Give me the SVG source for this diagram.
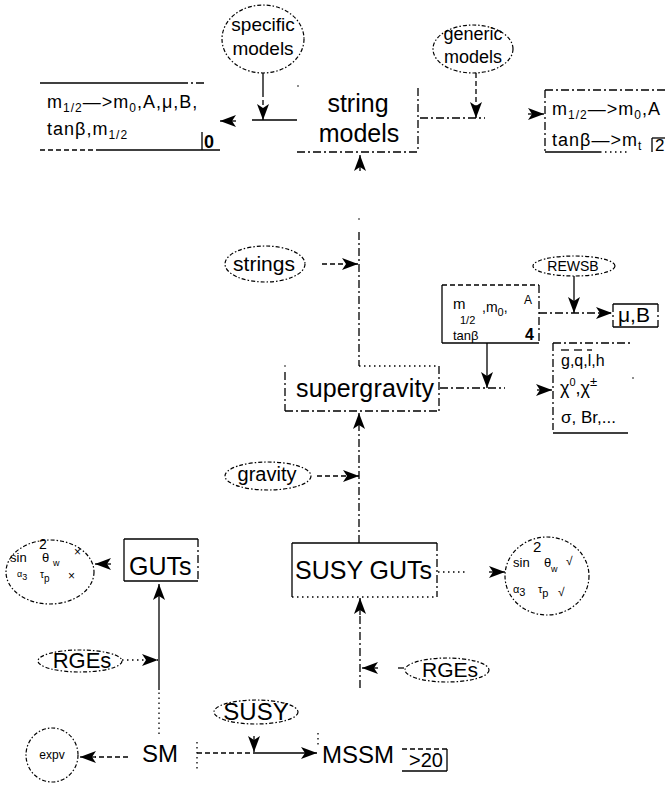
<svg xmlns="http://www.w3.org/2000/svg" width="665" height="786" viewBox="0 0 665 786">
<style>
text{font-family:"Liberation Sans",Arial,Helvetica,sans-serif;fill:#000}
.big{font-size:25px}
.sm{font-size:18px}
.c{text-anchor:middle}
.b{font-weight:bold}
.ln{stroke:#000;stroke-width:1.3;fill:none}
.dd{stroke-dasharray:8 3 2 3}
.da{stroke-dasharray:5 3}
.dt{stroke-dasharray:1.5 3.5}
.el{stroke:#000;stroke-width:1.2;fill:none;stroke-dasharray:4 2 1.5 2}
.ar{marker-end:url(#ah)}
</style>
<defs>
<marker id="ah" viewBox="0 0 16 12" refX="16" refY="6" markerWidth="16" markerHeight="12" markerUnits="userSpaceOnUse" orient="auto"><path d="M0,0 L16,6 L0,12 L4,6 z" fill="#000"/></marker>
</defs>

<g id="connectors">
<line class="ln" x1="263" y1="73" x2="263" y2="92"/>
<line class="ln ar da" x1="263" y1="92" x2="263" y2="120"/>
<line class="ln" x1="252" y1="120" x2="297" y2="120"/>
<line class="ln ar" x1="236" y1="121" x2="220" y2="121"/>
<line class="ln ar da" x1="476" y1="73" x2="476" y2="118"/>
<line class="ln dd" x1="420" y1="118" x2="485" y2="118"/>
<line class="ln ar" x1="528" y1="114" x2="544" y2="114"/>
<line class="ln ar" x1="360" y1="171" x2="360" y2="155"/>
<line class="ln dd" x1="359" y1="232" x2="359" y2="366"/>
<circle cx="359" cy="219" r="0.8"/>
<line class="ln ar da" x1="322" y1="264" x2="358" y2="264"/>
<line class="ln ar da" x1="317" y1="476" x2="359" y2="476"/>
<line class="ln dd" x1="359" y1="543" x2="359" y2="430"/>
<line class="ln ar" x1="359" y1="430" x2="359" y2="413"/>
<line class="ln dd" x1="440" y1="388" x2="505" y2="388"/>
<line class="ln ar" x1="487" y1="343" x2="487" y2="388"/>
<line class="ln ar" x1="537" y1="390" x2="552" y2="390"/>
<line class="ln ar" x1="574" y1="276" x2="574" y2="313"/>
<line class="ln dd ar" x1="539" y1="313" x2="612" y2="313"/>
<line class="ln dt" x1="438" y1="572" x2="466" y2="572"/>
<line class="ln ar" x1="489" y1="572" x2="505" y2="572"/>
<line class="ln dd" x1="360" y1="688" x2="360" y2="615"/>
<line class="ln ar" x1="360" y1="615" x2="360" y2="598"/>
<line class="ln ar" x1="378" y1="668" x2="362" y2="668"/>
<line class="ln" x1="398" y1="668" x2="404" y2="668"/>
<line class="ln dt" x1="159" y1="734" x2="159" y2="690"/>
<line class="ln ar" x1="159" y1="690" x2="159" y2="584"/>
<line class="ln dt ar" x1="122" y1="660" x2="158" y2="660"/>
<line class="ln ar" x1="111" y1="564" x2="95" y2="564"/>
<line class="ln da" x1="128" y1="757" x2="95" y2="757"/>
<line class="ln ar" x1="96" y1="757" x2="80" y2="757"/>
<line class="ln dt" x1="197" y1="742" x2="197" y2="772"/>
<line class="ln da" x1="197" y1="753" x2="255" y2="753"/>
<line class="ln ar" x1="255" y1="753" x2="317" y2="753"/>
<line class="ln ar" x1="254" y1="736" x2="254" y2="752"/>
</g>

<g id="specific-models">
<ellipse class="el" cx="263" cy="39" rx="41" ry="34"/>
<text class="c" x="263" y="31" style="font-size:19px">specific</text>
<text class="c" x="263" y="55" style="font-size:19px">models</text>
</g>

<g id="generic-models">
<ellipse class="el" cx="473" cy="49" rx="40" ry="24"/>
<text class="c" x="473" y="40" style="font-size:18px">generic</text>
<text class="c" x="473" y="63" style="font-size:18px">models</text>
</g>

<g id="string-models">
<circle cx="298" cy="86" r="0.8"/>
<line class="ln dd" x1="418" y1="88" x2="418" y2="152"/>
<line class="ln dd" x1="297" y1="152" x2="418" y2="152"/>
<text class="big c" x="358" y="112">string</text>
<text class="big c" x="359" y="142">models</text>
</g>

<g id="box-0">
<line class="ln" x1="40" y1="83" x2="180" y2="83"/>
<line class="ln dd" x1="180" y1="83" x2="206" y2="83"/>
<line class="ln da" x1="40" y1="150" x2="100" y2="150"/>
<line class="ln" x1="100" y1="150" x2="220" y2="150"/>
<line class="ln" x1="202" y1="132" x2="202" y2="150"/>
<text class="sm" x="47" y="108" letter-spacing="1">m<tspan font-size="12" dy="4">1/2</tspan><tspan dy="-4">—&gt;m</tspan><tspan font-size="12" dy="4">0</tspan><tspan dy="-4">,A,μ,B,</tspan></text>
<text class="sm" x="47" y="135" letter-spacing="1">tanβ,m<tspan font-size="12" dy="4">1/2</tspan></text>
<text class="b" x="204" y="148" style="font-size:18px">0</text>
</g>

<g id="box-2">
<line class="ln dd" x1="545" y1="90" x2="545" y2="152"/>
<line class="ln dd" x1="545" y1="90" x2="665" y2="90"/>
<line class="ln" x1="545" y1="152" x2="600" y2="152"/>
<line class="ln dt" x1="600" y1="152" x2="630" y2="152"/>
<line class="ln" x1="652" y1="138" x2="652" y2="152"/>
<line class="ln" x1="652" y1="138" x2="665" y2="138"/>
<text class="sm" x="552" y="115" letter-spacing="1">m<tspan font-size="12" dy="4">1/2</tspan><tspan dy="-4">—&gt;m</tspan><tspan font-size="12" dy="4">0</tspan><tspan dy="-4">,A</tspan></text>
<text class="sm" x="552" y="146" letter-spacing="1">tanβ—&gt;m<tspan font-size="12" dy="4">t</tspan></text>
<text x="655" y="151" style="font-size:17px">2</text>
</g>

<g id="strings">
<ellipse class="el" cx="265" cy="264" rx="40" ry="18"/>
<text class="c" x="264" y="271" style="font-size:21px">strings</text>
</g>

<g id="rewsb">
<ellipse class="el" cx="574" cy="266" rx="41" ry="10"/>
<text class="c" x="573" y="271" style="font-size:14px">REWSB</text>
</g>

<g id="box-4">
<line class="ln da" x1="442" y1="285" x2="539" y2="285"/>
<line class="ln" x1="442" y1="285" x2="442" y2="343"/>
<line class="ln" x1="442" y1="343" x2="539" y2="343"/>
<line class="ln dd" x1="539" y1="285" x2="539" y2="343"/>
<text x="453" y="309" style="font-size:15px">m</text>
<text x="460" y="324" style="font-size:11px">1/2</text>
<text x="482" y="312" style="font-size:14px">,m<tspan font-size="11" dy="4">0</tspan><tspan dy="-4">,</tspan></text>
<text x="524" y="304" style="font-size:12px">A</text>
<text x="453" y="340" style="font-size:13px">tanβ</text>
<text class="b" x="525" y="340" style="font-size:16px">4</text>
</g>

<g id="mu-b">
<line class="ln dd" x1="613" y1="304" x2="613" y2="327"/>
<line class="ln" x1="613" y1="304" x2="658" y2="304"/>
<line class="ln dd" x1="658" y1="304" x2="658" y2="327"/>
<line class="ln" x1="613" y1="327" x2="658" y2="327"/>
<text x="618" y="322" style="font-size:21px">μ,B</text>
</g>

<g id="supergravity">
<line class="ln dt" x1="359" y1="366" x2="439" y2="366"/>
<circle cx="285" cy="366" r="0.8"/>
<line class="ln dd" x1="285" y1="372" x2="285" y2="411"/>
<line class="ln dd" x1="285" y1="411" x2="439" y2="411"/>
<line class="ln dd" x1="439" y1="366" x2="439" y2="411"/>
<text class="big" x="296" y="397" textLength="138">supergravity</text>
</g>

<g id="sparticles">
<line class="ln dd" x1="553" y1="343" x2="630" y2="343"/>
<line class="ln dd" x1="553" y1="343" x2="553" y2="430"/>
<line class="ln" x1="553" y1="433" x2="628" y2="433"/>
<circle cx="633" cy="378" r="0.8"/>
<line class="ln" x1="561" y1="350" x2="569" y2="350"/>
<line class="ln" x1="574" y1="350" x2="582" y2="350"/>
<line class="ln" x1="587" y1="350" x2="592" y2="350"/>
<text x="561" y="366" style="font-size:16px">g,q,l,h</text>
<text x="560" y="394" style="font-size:18px">χ<tspan font-size="11" dy="-8">0</tspan><tspan dy="8">,χ</tspan><tspan font-size="13" dy="-8">±</tspan></text>
<text x="561" y="423" style="font-size:17px">σ, Br,...</text>
</g>

<g id="gravity">
<ellipse class="el" cx="268" cy="476" rx="43" ry="14"/>
<text class="c" x="267" y="481" style="font-size:20px">gravity</text>
</g>

<g id="guts">
<line class="ln" x1="124" y1="539" x2="198" y2="539"/>
<line class="ln" x1="124" y1="539" x2="124" y2="581"/>
<line class="ln dd" x1="198" y1="539" x2="198" y2="581"/>
<line class="ln" x1="124" y1="581" x2="198" y2="581"/>
<text class="big" x="129" y="575">GUTs</text>
</g>

<g id="guts-predictions">
<ellipse class="el" cx="50" cy="572" rx="44" ry="32"/>
<text x="39" y="549" style="font-size:14px">2</text>
<text x="10" y="562" style="font-size:13px">sin</text>
<text x="42" y="562" style="font-size:13px">θ</text>
<text x="53" y="566" style="font-size:9px">w</text>
<text x="74" y="556" style="font-size:12px">×</text>
<text x="17" y="577" style="font-size:9px">α<tspan dy="3">3</tspan></text>
<text x="40" y="578" style="font-size:10px">τ<tspan dy="4">p</tspan></text>
<text x="68" y="580" style="font-size:12px">×</text>
</g>

<g id="susy-guts">
<line class="ln" x1="292" y1="543" x2="437" y2="543"/>
<line class="ln" x1="292" y1="543" x2="292" y2="597"/>
<line class="ln dd" x1="437" y1="543" x2="437" y2="597"/>
<line class="ln dt" x1="292" y1="597" x2="437" y2="597"/>
<text class="big" x="295" y="579">SUSY GUTs</text>
</g>

<g id="susy-guts-predictions">
<ellipse class="el" cx="547" cy="576" rx="42" ry="39"/>
<text x="533" y="552" style="font-size:15px">2</text>
<text x="513" y="567" style="font-size:13px">sin</text>
<text x="544" y="567" style="font-size:13px">θ</text>
<text x="551" y="572" style="font-size:9px">w</text>
<text x="566" y="565" style="font-size:12px">√</text>
<text x="513" y="593" style="font-size:11px">α<tspan dy="3">3</tspan></text>
<text x="538" y="593" style="font-size:11px">τ<tspan dy="4">p</tspan></text>
<text x="558" y="596" style="font-size:12px">√</text>
</g>

<g id="rges-right">
<ellipse class="el" cx="447" cy="670" rx="42" ry="12"/>
<text class="c" x="450" y="677" style="font-size:21px">RGEs</text>
</g>

<g id="rges-left">
<ellipse class="el" cx="80" cy="661" rx="42" ry="11"/>
<text class="c" x="82" y="668" style="font-size:22px">RGEs</text>
</g>

<g id="susy">
<ellipse class="el" cx="256" cy="712" rx="42" ry="12"/>
<text class="c" x="256" y="720" style="font-size:24px">SUSY</text>
</g>

<g id="sm">
<text class="c" x="160" y="762" style="font-size:24px">SM</text>
</g>

<g id="expv">
<ellipse class="el" cx="52" cy="755" rx="26" ry="27"/>
<text class="c" x="52" y="759" style="font-size:12px">expv</text>
</g>

<g id="mssm">
<line class="ln dt" x1="318" y1="733" x2="318" y2="747"/>
<text x="322" y="763" style="font-size:24px">MSSM</text>
<line class="ln da" x1="402" y1="749" x2="447" y2="749"/>
<line class="ln" x1="447" y1="749" x2="447" y2="771"/>
<line class="ln" x1="402" y1="771" x2="447" y2="771"/>
<text x="409" y="767" style="font-size:20px">&gt;20</text>
</g>
</svg>
